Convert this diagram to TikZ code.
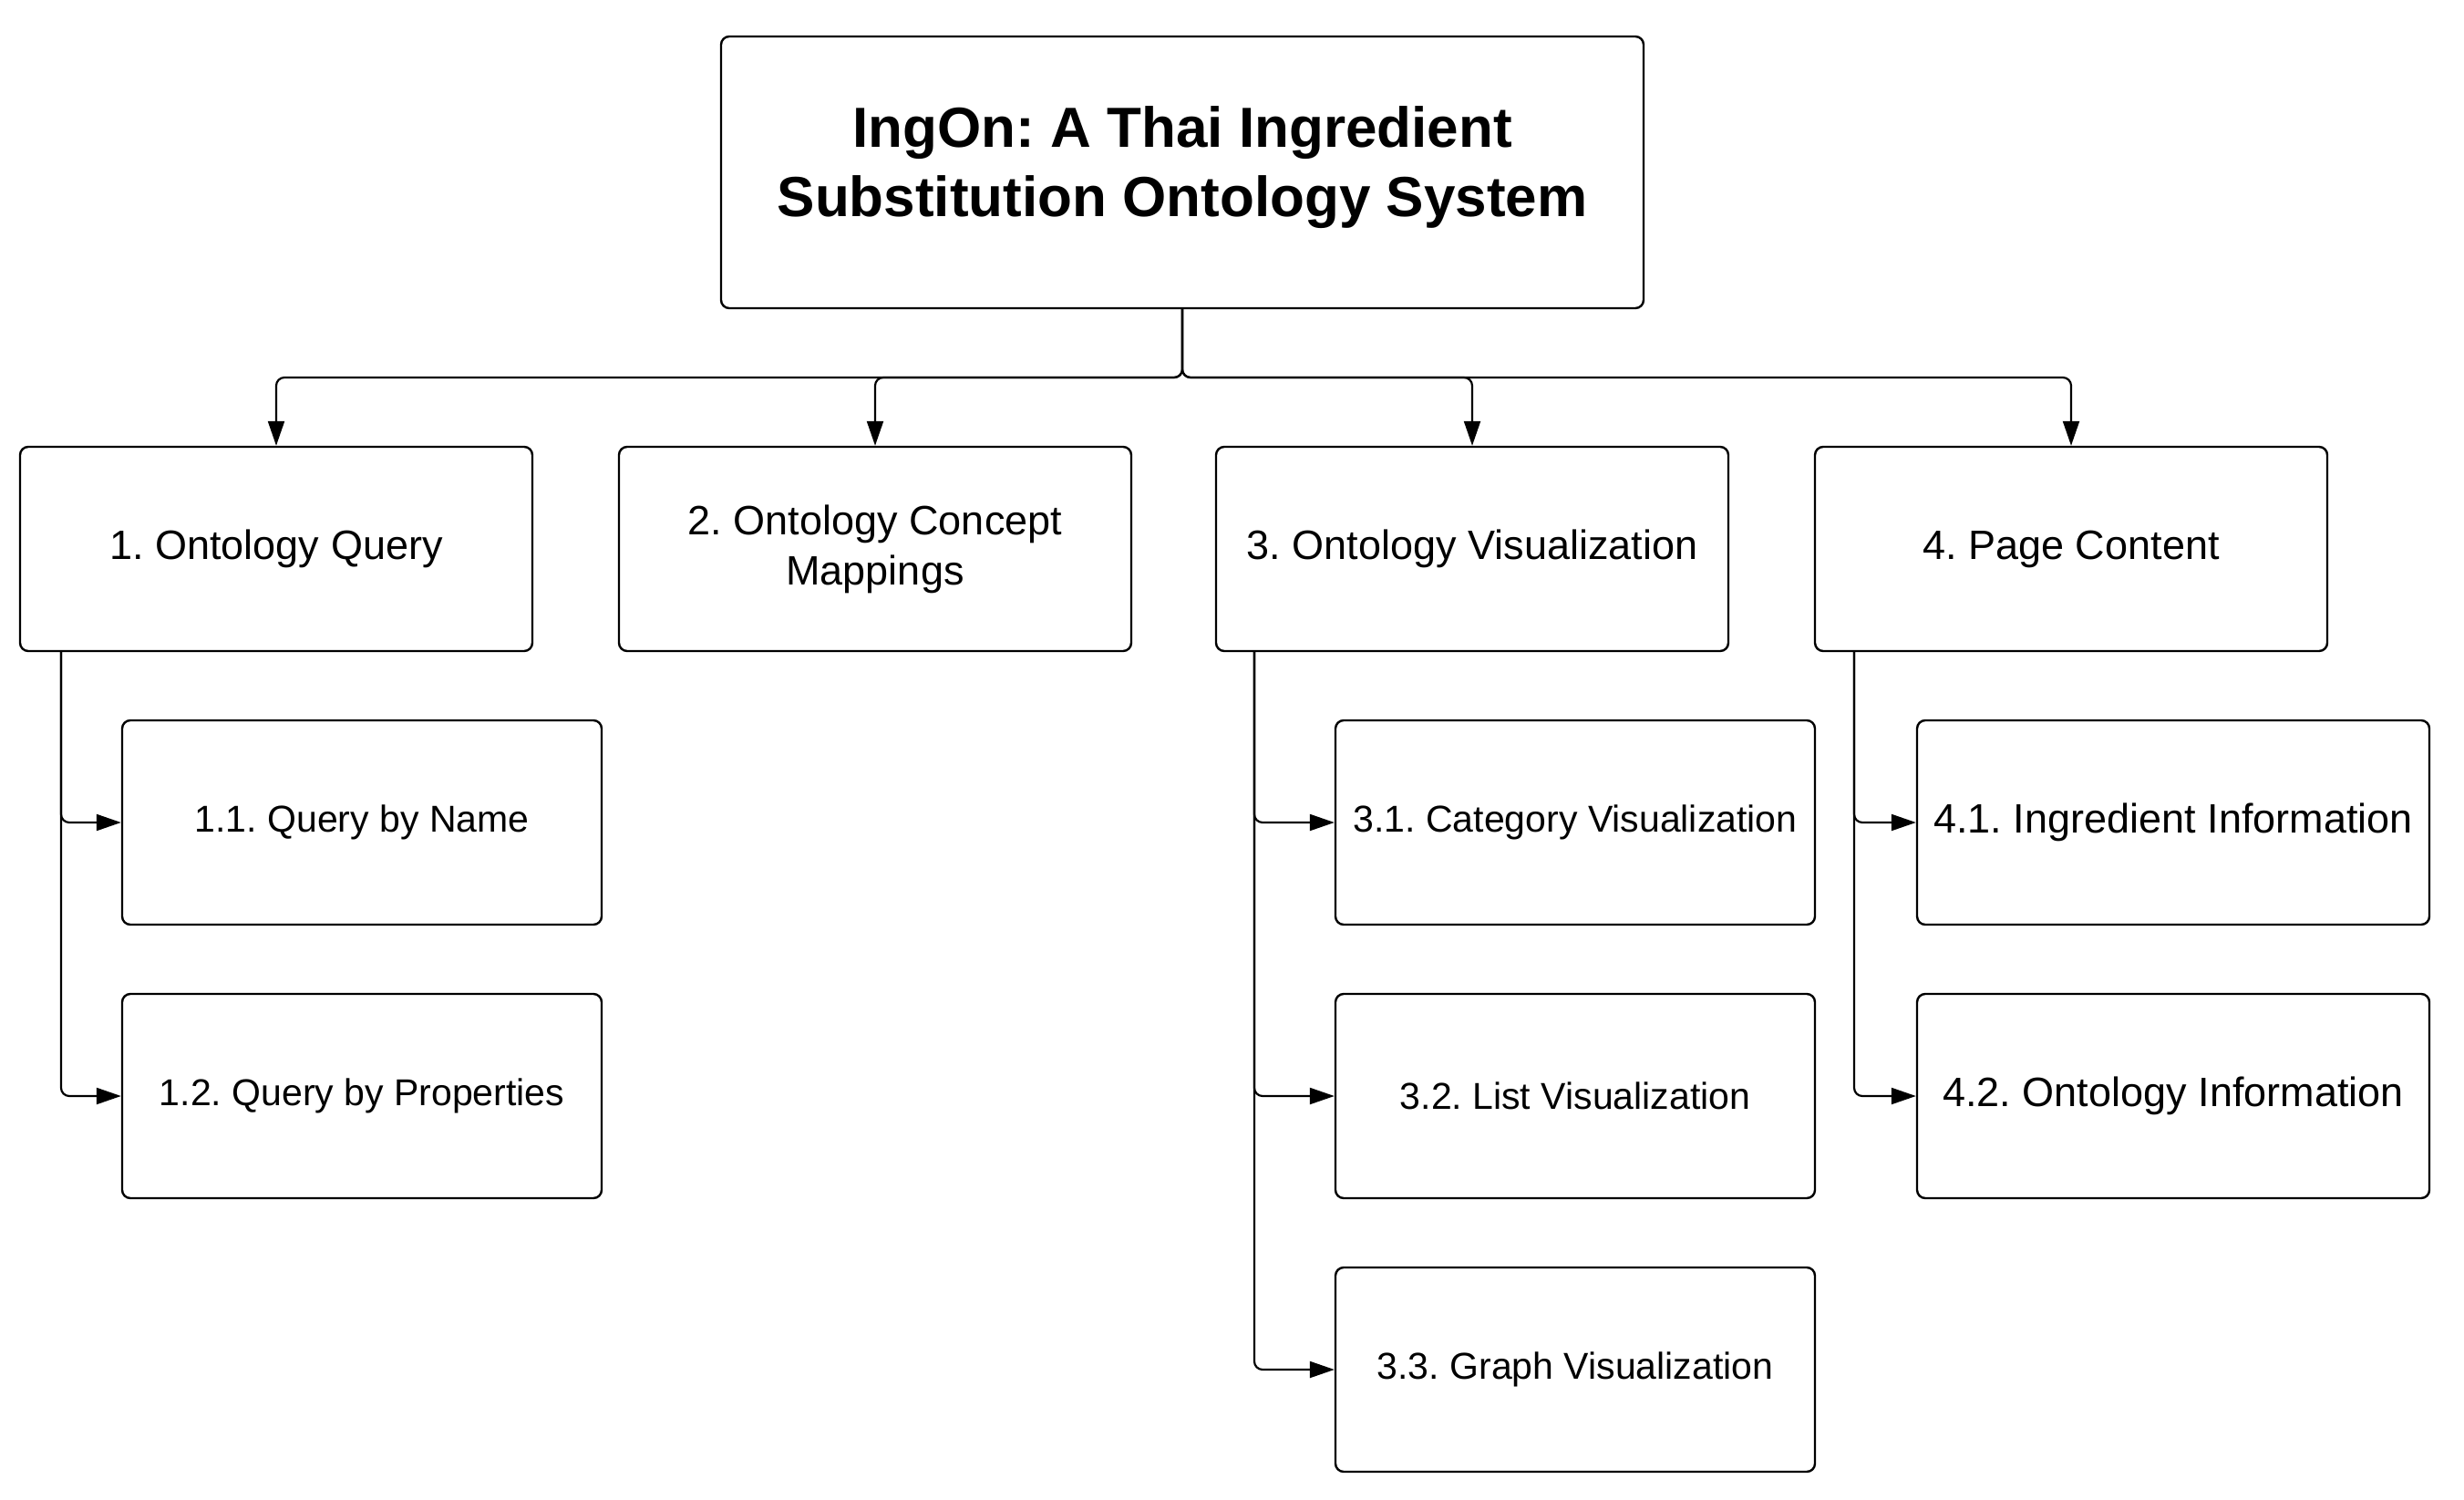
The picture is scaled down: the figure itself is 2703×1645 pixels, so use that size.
\documentclass[tikz,border=0pt]{standalone}
\usepackage{fontspec}
\setmainfont{Liberation Sans}
\usetikzlibrary{arrows.meta}
\frenchspacing
\begin{document}
\begin{tikzpicture}[x=1pt,y=-1pt,
  box/.style={draw, line width=2.4pt, rounded corners=9pt, align=center, inner sep=0pt},
  titlebox/.style={box, minimum width=1012pt, minimum height=298pt, font=\fontsize{62}{76}\selectfont\bfseries},
  lone/.style={box, minimum width=562pt, minimum height=224pt, font=\fontsize{45}{55}\selectfont},
  ltwo/.style={box, minimum width=526pt, minimum height=224pt, font=\fontsize{41}{50}\selectfont},
  lfour/.style={box, minimum width=562pt, minimum height=224pt, font=\fontsize{45}{55}\selectfont},
  conn/.style={line width=2.2pt, rounded corners=9pt, -{Triangle[length=27pt,width=18pt]}}]
\useasboundingbox (0,0) rectangle (2703,1645);
\node[titlebox] (t) at (1297,189) {IngOn: A Thai Ingredient\\Substitution Ontology System\\[-52pt]\mbox{}};
\node[lone] (c1) at (303,602) {1. Ontology Query};
\node[lone] (c2) at (960,602) {2. Ontology Concept\\Mappings};
\node[lone] (c3) at (1615,602) {3. Ontology Visualization};
\node[lone] (c4) at (2272,602) {4. Page Content};
\node[ltwo] (c11) at (397,902) {1.1. Query by Name};
\node[ltwo] (c12) at (397,1202) {1.2. Query by Properties};
\node[ltwo] (c31) at (1728,902) {3.1. Category Visualization};
\node[ltwo] (c32) at (1728,1202) {3.2. List Visualization};
\node[ltwo] (c33) at (1728,1502) {3.3. Graph Visualization};
\node[lfour] (c41) at (2384,902) {4.1. Ingredient Information};
\node[lfour] (c42) at (2384,1202) {4.2. Ontology Information};
\coordinate (b1) at (303,414);
\coordinate (b2) at (960,414);
\coordinate (b3) at (1615,414);
\coordinate (b4) at (2272,414);
\draw[conn] (t.south) |- (b1) -- (c1.north);
\draw[conn] (t.south) |- (b2) -- (c2.north);
\draw[conn] (t.south) |- (b3) -- (c3.north);
\draw[conn] (t.south) |- (b4) -- (c4.north);
\coordinate (s1) at (67,714);
\coordinate (s3) at (1376,714);
\coordinate (s4) at (2034,714);
\draw[conn] (s1) |- (c11.west);
\draw[conn] (s1) |- (c12.west);
\draw[conn] (s3) |- (c31.west);
\draw[conn] (s3) |- (c32.west);
\draw[conn] (s3) |- (c33.west);
\draw[conn] (s4) |- (c41.west);
\draw[conn] (s4) |- (c42.west);
\end{tikzpicture}
\end{document}
